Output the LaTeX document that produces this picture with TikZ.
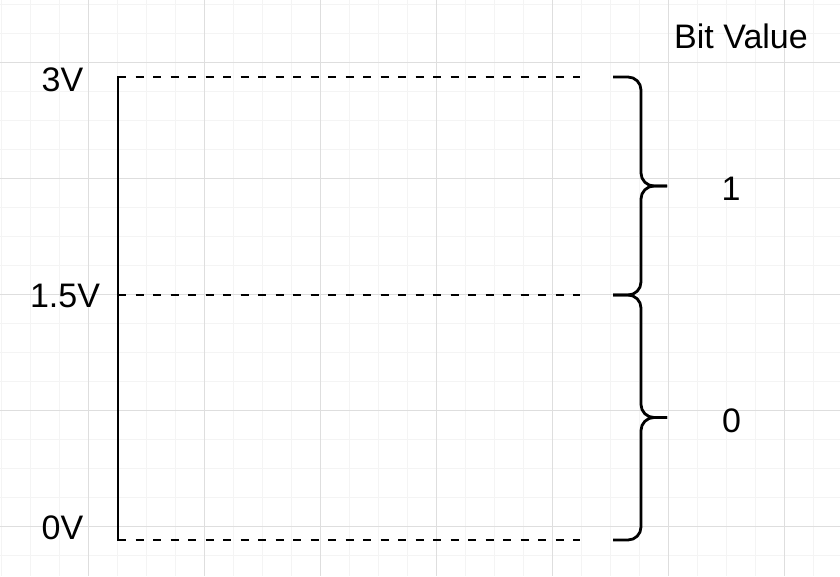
\documentclass[tikz,border=0pt]{standalone}
\usepackage{fontspec}
\setmainfont{Liberation Sans}
\definecolor{gridminor}{RGB}{244,244,244}
\definecolor{gridmajor}{RGB}{222,222,222}
\begin{document}
\begin{tikzpicture}[x=1pt,y=-1pt,
  lbl/.style={inner sep=0pt,font=\fontsize{34}{40}\selectfont},
  axisline/.style={line width=2.7pt,black},
  level/.style={line width=2.7pt,black,dash pattern=on 8.3pt off 9.2pt},
  bracepart/.style={line width=2.8pt,black,rounded corners=13pt}]
\useasboundingbox (0,0) rectangle (840,576);
\fill[white] (0,0) rectangle (840,576);
% grid
\foreach \k in {0,...,28}{\draw[gridminor,line width=1pt] ({1+29*\k},0) -- ({1+29*\k},576);}
\foreach \k in {0,...,19}{\draw[gridminor,line width=1pt] (0,{4+29*\k}) -- (840,{4+29*\k});}
\foreach \x in {88,204,320,436,552,668,784}{\draw[gridmajor,line width=1pt] (\x,0) -- (\x,576);}
\foreach \y in {62,178,294,410,526}{\draw[gridmajor,line width=1pt] (0,\y) -- (840,\y);}
% coordinates
\coordinate (top) at (118,77);
\coordinate (mid) at (118,295);
\coordinate (bot) at (118,540);
\coordinate (topend) at (580,77);
\coordinate (midend) at (580,295);
\coordinate (botend) at (580,540);
% levels
\draw[level] (top) -- (topend);
\draw[level] (mid) -- (midend);
\draw[level] (bot) -- (botend);
\draw[axisline,line cap=rect] (top) -- (bot);
% braces
\coordinate (b1t) at (613,77);
\coordinate (b1m) at (613,295);
\coordinate (b2b) at (613,540);
\coordinate (tip1) at (667,186);
\coordinate (tip2) at (667,417.5);
\draw[bracepart] (b1t) -- (641,77) -- (641,186) -- (tip1);
\draw[bracepart] (b1m) -- (641,295) -- (641,186) -- (tip1);
\draw[bracepart] (b1m) -- (641,295) -- (641,417.5) -- (tip2);
\draw[bracepart] (b2b) -- (641,540) -- (641,417.5) -- (tip2);
% labels
\node[lbl] (v3) at (62.5,79.5) {3V};
\node[lbl] (v15) at (65,295.5) {1.5V};
\node[lbl] (v0) at (62.5,527.5) {0V};
\node[lbl] (bv) at (741,36.5) {Bit Value};
\node[lbl] (one) at (731,189) {1};
\node[lbl] (zero) at (731.5,420.5) {0};
\end{tikzpicture}
\end{document}
